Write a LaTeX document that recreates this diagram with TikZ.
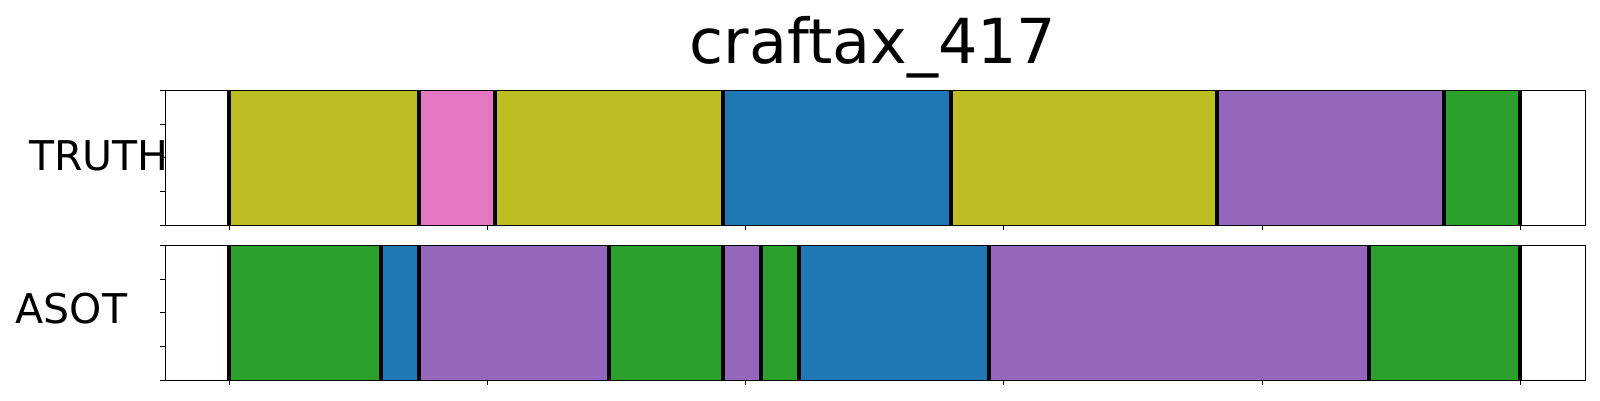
\documentclass[tikz,border=0pt]{standalone}
\usepackage{fontspec}
\setmainfont{DejaVu Sans}
\definecolor{tolive}{HTML}{BCBD22}
\definecolor{tpink}{HTML}{E377C2}
\definecolor{tblue}{HTML}{1F77B4}
\definecolor{tpurple}{HTML}{9467BD}
\definecolor{tgreen}{HTML}{2CA02C}
\tikzset{
  seg/.style={draw=none},
  bound/.style={line width=3.6pt, black},
  frame/.style={line width=1.2pt, black},
  tick/.style={line width=1pt, black},
  lbl/.style={inner sep=0pt, font=\fontsize{41}{45}\selectfont},
  ttl/.style={inner sep=0pt, font=\fontsize{62}{66}\selectfont}
}
\begin{document}
\begin{tikzpicture}[x=1pt,y=-1pt]
\useasboundingbox (0,0) rectangle (1600,400);
\fill[white] (0,0) rectangle (1600,400);
% title
\node[ttl, anchor=base] (title) at (873,63.3) {craftax\_417};
% ---- TRUTH panel: y 90.3 .. 225.3
\def\ta{90.3}\def\tb{225.3}
\fill[tolive] (229,\ta) rectangle (419,\tb);
\fill[tpink] (419,\ta) rectangle (495,\tb);
\fill[tolive] (495,\ta) rectangle (722.7,\tb);
\fill[tblue] (722.7,\ta) rectangle (950.7,\tb);
\fill[tolive] (950.7,\ta) rectangle (1216.7,\tb);
\fill[tpurple] (1216.7,\ta) rectangle (1443.7,\tb);
\fill[tgreen] (1443.7,\ta) rectangle (1520,\tb);
\foreach \x in {229,419,495,722.7,950.7,1216.7,1443.7,1520}
  \draw[bound] (\x,\ta) -- (\x,\tb);
\draw[frame] (165.3,\ta) rectangle (1585.7,\tb);
% ---- ASOT panel: y 245.3 .. 380.3
\def\ba{245.3}\def\bb{380.3}
\fill[tgreen] (229,\ba) rectangle (380.7,\bb);
\fill[tblue] (380.7,\ba) rectangle (419,\bb);
\fill[tpurple] (419,\ba) rectangle (609,\bb);
\fill[tgreen] (609,\ba) rectangle (722.7,\bb);
\fill[tpurple] (722.7,\ba) rectangle (760.7,\bb);
\fill[tgreen] (760.7,\ba) rectangle (799,\bb);
\fill[tblue] (799,\ba) rectangle (989,\bb);
\fill[tpurple] (989,\ba) rectangle (1369,\bb);
\fill[tgreen] (1369,\ba) rectangle (1520,\bb);
\foreach \x in {229,380.7,419,609,722.7,760.7,799,989,1369,1520}
  \draw[bound] (\x,\ba) -- (\x,\bb);
\draw[frame] (165.3,\ba) rectangle (1585.7,\bb);
% ticks
\foreach \k in {0,...,5} {
  \draw[tick] ({229+258.3*\k},\tb) -- ++(0,5);
  \draw[tick] ({229+258.3*\k},\bb) -- ++(0,5);
}
\foreach \k in {0,...,4} {
  \draw[tick] (165.3,{\ta+33.75*\k}) -- ++(-5,0);
  \draw[tick] (165.3,{\ba+33.75*\k}) -- ++(-5,0);
}
% labels
\node[lbl, anchor=base east] (truth) at (169,170) {TRUTH};
\node[lbl, anchor=base west] (asot) at (15.5,323.3) {ASOT};
\end{tikzpicture}
\end{document}
